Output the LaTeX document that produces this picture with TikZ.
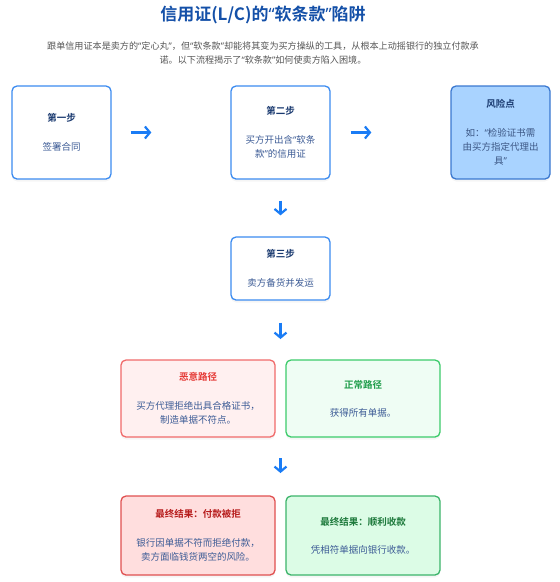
\documentclass[tikz,border=0pt]{standalone}
\usepackage{fontspec}
\newfontfamily\cjk{Noto Sans CJK SC}[BoldFont={Noto Sans CJK SC Bold}]
\newfontfamily\latq{Noto Sans}
\newcommand\oq{{\latq “}}
\newcommand\cq{{\latq ”}}
\usetikzlibrary{arrows.meta,shadows}
\definecolor{titleblue}{HTML}{1450A8}
\definecolor{subgrey}{HTML}{555555}
\definecolor{boxblue}{HTML}{3B8BF0}
\definecolor{headblue}{HTML}{1A3A70}
\definecolor{bodyblue}{HTML}{3D5C96}
\definecolor{riskfill}{HTML}{A9D3FF}
\definecolor{riskdraw}{HTML}{3A78D0}
\definecolor{badfill}{HTML}{FFF0F0}
\definecolor{baddraw}{HTML}{F06A6A}
\definecolor{badhead}{HTML}{E53935}
\definecolor{goodfill}{HTML}{EFFDF4}
\definecolor{gooddraw}{HTML}{3CCB6A}
\definecolor{goodhead}{HTML}{1F9D4A}
\definecolor{fbadfill}{HTML}{FFDEDE}
\definecolor{fbaddraw}{HTML}{E05050}
\definecolor{fbadhead}{HTML}{B71C1C}
\definecolor{fgoodfill}{HTML}{DCFCE6}
\definecolor{fgooddraw}{HTML}{3CB46A}
\definecolor{fgoodhead}{HTML}{1E7A3C}
\definecolor{arrowblue}{HTML}{1A7CF5}
\tikzset{
  card/.style={rectangle, rounded corners=5pt, line width=1.3pt, draw=boxblue, fill=white,
    inner sep=0pt, align=center, text=bodyblue,
    font=\cjk\fontsize{9.5}{14}\selectfont,
    drop shadow={opacity=0.08, shadow xshift=0pt, shadow yshift=-2.5pt}},
  stepcard/.style={card, minimum width=99pt, minimum height=93pt},
  pathcard/.style={card, minimum width=154pt, minimum height=77pt},
  flowarrow/.style={draw=arrowblue, line width=2.2pt, -{Straight Barb[length=5pt,width=12pt]}},
}
\begin{document}
\begin{tikzpicture}[x=1pt,y=-1pt]
\useasboundingbox (0,0) rectangle (560,582);
\node[font=\cjk\bfseries\fontsize{17}{20}\selectfont, text=titleblue] (title) at (263,14.5) {信用证(L/C)的\oq 软条款\cq 陷阱};
\node[font=\cjk\fontsize{9.1}{14}\selectfont, text=subgrey, align=center] (sub) at (263,53)
  {跟单信用证本是卖方的\oq 定心丸\cq ，但\oq 软条款\cq 却能将其变为买方操纵的工具，从根本上动摇银行的独立付款承\\诺。以下流程揭示了\oq 软条款\cq 如何使卖方陷入困境。};

\node[stepcard] (s1) at (61.5,132.5) {\textbf{\color{headblue}第一步}\\[15pt]签署合同};
\node[stepcard] (s2) at (280.5,132.5) {\textbf{\color{headblue}第二步}\\[15pt]买方开出含\oq 软条\\款\cq 的信用证};
\node[stepcard, fill=riskfill, draw=riskdraw, text=headblue!85!white] (risk) at (500.5,132.5) {\textbf{\color{headblue}风险点}\\[15pt]如：\oq 检验证书需\\由买方指定代理出\\具\cq};
\node[card, minimum width=99pt, minimum height=63pt] (s3) at (280.5,268.5) {\textbf{\color{headblue}第三步}\\[15pt]卖方备货并发运};

\node[pathcard, fill=badfill, draw=baddraw] (bad) at (198,398.5) {\textbf{\color{badhead}恶意路径}\\[15pt]买方代理拒绝出具合格证书，\\制造单据不符点。};
\node[pathcard, fill=goodfill, draw=gooddraw] (good) at (363,398.5) {\textbf{\color{goodhead}正常路径}\\[14pt]获得所有单据。};

\node[pathcard, minimum height=79pt, fill=fbadfill, draw=fbaddraw] (fbad) at (198,535.5) {\textbf{\color{fbadhead}最终结果：付款被拒}\\[15pt]银行因单据不符而拒绝付款，\\卖方面临钱货两空的风险。};
\node[pathcard, minimum height=79pt, fill=fgoodfill, draw=fgooddraw] (fgood) at (363,535.5) {\textbf{\color{fgoodhead}最终结果：顺利收款}\\[14pt]凭相符单据向银行收款。};

\coordinate (mid1) at (280.5,360);
\coordinate (mid2top) at (280.5,437);
\coordinate (mid2) at (280.5,496);

\draw[flowarrow, shorten <=19pt, shorten >=79pt] (s1.east) -- (s2.west);
\draw[flowarrow, shorten <=20pt, shorten >=79pt] (s2.east) -- (risk.west);
\draw[flowarrow, shorten <=21pt, shorten >=21pt] (s2.south) -- (s3.north);
\draw[flowarrow, shorten <=22pt, shorten >=21pt] (s3.south) -- (mid1);
\draw[flowarrow, shorten <=21pt, shorten >=23pt] (mid2top) -- (mid2);
\end{tikzpicture}
\end{document}
